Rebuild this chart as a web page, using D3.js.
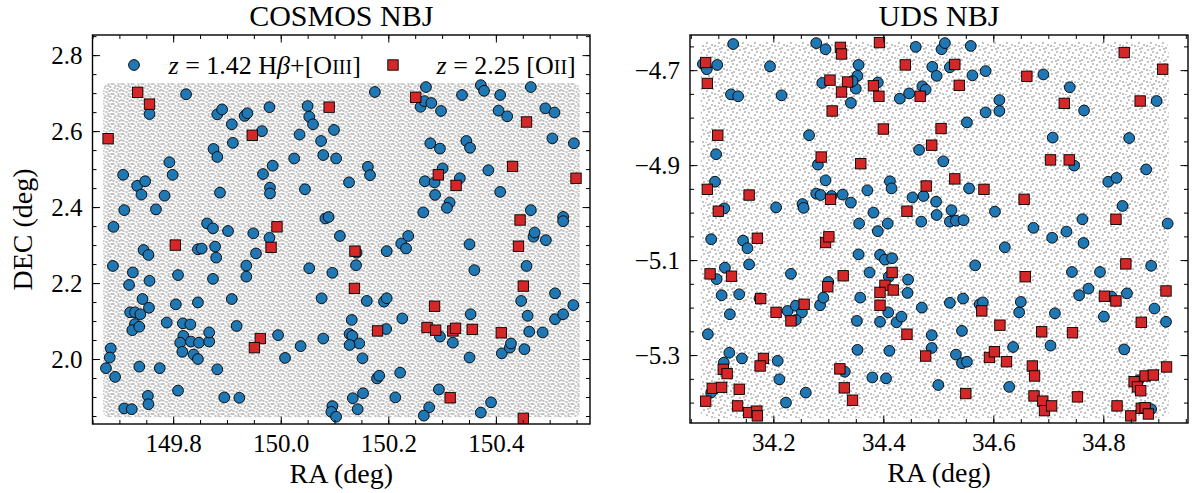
<!DOCTYPE html>
<html>
<head>
<meta charset="utf-8">
<script src="https://cdn.jsdelivr.net/npm/d3@7"></script>
<style>
  body { margin: 0; background: #fff; }
  svg text { font-family: "Liberation Serif", "DejaVu Serif", serif; fill: #000; }
</style>
</head>
<body>
<svg id="chart" width="1197" height="493"></svg>
<script>
// [RA, DEC] in degrees
const cosmosHbOiii = [
  [149.824,2.697],[149.756,2.645],[149.882,2.644],[149.891,2.657],[149.909,2.618],[149.933,2.640],[149.938,2.647],
  [149.979,2.663],[149.965,2.600],[149.911,2.569],[149.875,2.553],[149.882,2.532],[149.793,2.518],[149.799,2.485],
  [149.707,2.485],[149.733,2.456],[149.748,2.468],[149.741,2.433],[149.784,2.430],[149.709,2.392],[149.768,2.394],
  [149.887,2.438],[149.967,2.487],[149.985,2.509],[149.980,2.451],[149.980,2.436],[150.025,2.528],[150.045,2.447],
  [150.035,2.591],[150.050,2.666],[150.053,2.638],[150.060,2.618],[150.075,2.574],[150.079,2.537],[150.175,2.703],
  [150.270,2.716],[150.260,2.664],[150.267,2.679],[150.280,2.674],[150.298,2.653],[150.337,2.695],[150.372,2.721],
  [150.378,2.706],[150.408,2.695],[150.405,2.654],[150.421,2.639],[150.465,2.716],[150.492,2.660],[150.509,2.649],
  [150.505,2.581],[150.545,2.568],[150.099,2.603],[150.103,2.528],[150.162,2.506],[150.166,2.484],[150.127,2.465],
  [150.278,2.568],[150.296,2.554],[150.345,2.574],[150.352,2.556],[150.301,2.502],[150.268,2.468],[150.286,2.465],
  [150.333,2.476],[150.287,2.432],[150.314,2.412],[150.309,2.398],[150.265,2.386],[150.386,2.497],[150.408,2.440],
  [150.465,2.392],[149.689,2.348],[149.863,2.357],[149.874,2.344],[149.902,2.337],[149.949,2.331],[149.979,2.319],
  [149.745,2.287],[149.754,2.274],[149.846,2.289],[149.853,2.291],[149.878,2.296],[149.880,2.267],[149.954,2.278],
  [149.936,2.246],[149.936,2.217],[149.688,2.245],[149.725,2.228],[149.718,2.195],[149.756,2.206],[149.809,2.221],
  [149.874,2.211],[150.053,2.239],[150.076,2.160],[149.743,2.158],[149.755,2.135],[149.805,2.144],[149.846,2.149],
  [149.909,2.158],[149.720,2.123],[149.729,2.123],[149.739,2.118],[149.729,2.092],[149.724,2.076],[149.737,2.085],
  [149.788,2.096],[149.818,2.094],[149.832,2.091],[149.819,2.061],[149.813,2.043],[149.817,2.019],[149.833,2.046],
  [149.848,2.043],[149.867,2.046],[149.867,2.070],[149.838,2.012],[149.846,2.000],[149.918,2.087],[149.995,2.063],
  [150.008,2.003],[150.037,2.034],[150.079,2.054],[149.684,2.028],[149.682,2.004],[149.675,1.976],[149.692,1.953],
  [149.737,1.980],[149.775,1.976],[149.882,1.973],[149.809,1.917],[149.753,1.903],[149.754,1.881],[149.709,1.870],
  [149.723,1.868],[149.895,1.899],[149.923,1.898],[150.083,2.370],[150.089,2.374],[150.525,2.374],[150.525,2.363],
  [150.110,2.324],[150.224,2.304],[150.237,2.324],[150.233,2.291],[150.197,2.284],[150.141,2.280],[150.140,2.247],
  [150.096,2.227],[150.351,2.302],[150.360,2.234],[150.470,2.322],[150.472,2.333],[150.493,2.313],[150.457,2.245],
  [150.160,2.153],[150.192,2.151],[150.197,2.160],[150.132,2.103],[150.226,2.107],[150.196,2.079],[150.128,2.066],
  [150.133,2.061],[150.146,2.041],[150.128,2.037],[150.152,2.002],[150.296,2.059],[150.320,2.043],[150.351,2.004],
  [150.353,2.118],[150.411,2.015],[150.426,2.030],[150.428,2.041],[150.453,2.026],[150.447,2.153],[150.459,2.114],
  [150.462,2.072],[150.487,2.070],[150.510,2.173],[150.510,2.105],[150.525,2.118],[150.544,2.142],[150.179,1.949],
  [150.183,1.956],[150.222,1.964],[150.134,1.897],[150.153,1.910],[150.096,1.876],[150.094,1.861],[150.103,1.848],
  [150.143,1.868],[150.213,1.899],[150.276,1.873],[150.266,1.851],[150.294,1.920],[150.372,1.859],[150.391,1.886]
];
const cosmosOii = [
  [149.679,2.580],[149.734,2.702],[149.756,2.671],[149.947,2.589],[150.090,2.663],[150.251,2.689],[150.457,2.624],
  [150.431,2.507],[150.293,2.485],[150.326,2.457],[150.549,2.476],[149.804,2.300],[149.993,2.348],[149.982,2.294],
  [149.962,2.054],[149.951,2.030],[150.445,2.366],[150.442,2.297],[150.138,2.284],[150.137,2.186],[150.451,2.192],
  [150.286,2.139],[150.180,2.074],[150.272,2.083],[150.288,2.076],[150.320,2.074],[150.325,2.081],[150.356,2.078],
  [150.410,2.069],[150.315,1.898],[150.451,1.844]
];
const udsHbOiii = [
  [34.072,-4.687],[34.079,-4.698],[34.098,-4.689],[34.127,-4.645],[34.123,-4.751],[34.136,-4.755],[34.194,-4.692],
  [34.215,-4.753],[34.265,-4.837],[34.278,-4.643],[34.295,-4.656],[34.289,-4.727],[34.355,-4.689],[34.353,-4.712],
  [34.350,-4.739],[34.341,-4.769],[34.344,-4.723],[34.390,-4.726],[34.430,-4.760],[34.447,-4.749],[34.459,-4.651],
  [34.471,-4.734],[34.477,-4.741],[34.465,-4.868],[34.096,-4.877],[34.094,-4.935],[34.111,-4.991],[34.205,-4.989],
  [34.253,-4.982],[34.255,-4.990],[34.281,-4.899],[34.295,-4.932],[34.278,-4.960],[34.286,-4.963],[34.306,-4.965],
  [34.326,-4.962],[34.341,-4.979],[34.371,-4.953],[34.382,-5.000],[34.412,-4.934],[34.415,-4.949],[34.453,-4.968],
  [34.473,-4.965],[34.506,-4.656],[34.512,-4.643],[34.559,-4.649],[34.489,-4.693],[34.521,-4.694],[34.497,-4.712],
  [34.562,-4.711],[34.586,-4.702],[34.691,-4.709],[34.739,-4.736],[34.611,-4.763],[34.611,-4.786],[34.586,-4.789],
  [34.552,-4.810],[34.765,-4.785],[34.897,-4.765],[34.708,-4.842],[34.847,-4.843],[34.509,-4.892],[34.747,-4.901],
  [34.878,-4.909],[34.809,-4.935],[34.824,-4.927],[34.556,-4.949],[34.496,-4.977],[34.524,-4.995],[34.603,-4.998],
  [34.835,-4.986],[34.356,-5.023],[34.390,-5.039],[34.408,-5.023],[34.469,-5.019],[34.087,-5.056],[34.145,-5.059],
  [34.153,-5.075],[34.156,-5.109],[34.112,-5.116],[34.097,-5.140],[34.106,-5.174],[34.138,-5.172],[34.121,-5.214],
  [34.175,-5.181],[34.232,-5.129],[34.081,-5.256],[34.120,-5.295],[34.110,-5.316],[34.143,-5.307],[34.087,-5.379],
  [34.208,-5.312],[34.211,-5.351],[34.223,-5.400],[34.259,-5.379],[34.226,-5.207],[34.241,-5.196],[34.252,-5.210],
  [34.241,-5.226],[34.285,-5.195],[34.291,-5.179],[34.300,-5.146],[34.355,-5.088],[34.394,-5.089],[34.403,-5.099],
  [34.416,-5.096],[34.375,-5.126],[34.410,-5.135],[34.445,-5.141],[34.444,-5.169],[34.358,-5.179],[34.409,-5.210],
  [34.394,-5.230],[34.424,-5.231],[34.433,-5.219],[34.352,-5.228],[34.470,-5.200],[34.353,-5.289],[34.411,-5.291],
  [34.330,-5.335],[34.380,-5.347],[34.405,-5.349],[34.497,-5.005],[34.521,-5.019],[34.532,-5.017],[34.546,-5.016],
  [34.762,-5.014],[34.917,-5.023],[34.673,-5.032],[34.707,-5.053],[34.733,-5.040],[34.764,-5.064],[34.621,-5.073],
  [34.567,-5.111],[34.743,-5.125],[34.794,-5.125],[34.887,-5.112],[34.756,-5.174],[34.773,-5.160],[34.815,-5.177],
  [34.843,-5.170],[34.893,-5.202],[34.914,-5.230],[34.801,-5.219],[34.712,-5.212],[34.647,-5.210],[34.650,-5.188],
  [34.521,-5.190],[34.545,-5.181],[34.575,-5.193],[34.581,-5.189],[34.488,-5.258],[34.488,-5.285],[34.543,-5.249],
  [34.532,-5.299],[34.543,-5.317],[34.552,-5.314],[34.636,-5.283],[34.704,-5.280],[34.838,-5.288],[34.500,-5.363],
  [34.629,-5.367],[34.887,-5.414],[34.864,-5.353]
];
const udsOii = [
  [34.077,-4.684],[34.080,-4.728],[34.099,-4.837],[34.080,-4.951],[34.156,-4.963],[34.100,-4.997],[34.322,-4.652],
  [34.324,-4.666],[34.393,-4.642],[34.303,-4.721],[34.335,-4.725],[34.324,-4.746],[34.382,-4.733],[34.392,-4.755],
  [34.307,-4.786],[34.400,-4.824],[34.440,-4.689],[34.467,-4.755],[34.287,-4.883],[34.359,-4.897],[34.304,-4.972],
  [34.443,-4.997],[34.530,-4.688],[34.538,-4.732],[34.661,-4.713],[34.838,-4.663],[34.908,-4.698],[34.729,-4.770],
  [34.867,-4.765],[34.505,-4.823],[34.488,-4.858],[34.704,-4.889],[34.738,-4.889],[34.530,-4.929],[34.478,-4.944],
  [34.583,-4.951],[34.656,-4.972],[34.171,-5.054],[34.295,-5.063],[34.301,-5.051],[34.085,-5.129],[34.124,-5.134],
  [34.177,-5.181],[34.205,-5.210],[34.232,-5.228],[34.256,-5.193],[34.299,-5.156],[34.327,-5.133],[34.416,-5.126],
  [34.403,-5.153],[34.418,-5.163],[34.394,-5.168],[34.394,-5.195],[34.443,-5.256],[34.477,-5.302],[34.182,-5.307],
  [34.176,-5.323],[34.109,-5.330],[34.116,-5.339],[34.321,-5.329],[34.329,-5.369],[34.344,-5.395],[34.089,-5.370],
  [34.106,-5.368],[34.077,-5.397],[34.138,-5.372],[34.135,-5.407],[34.155,-5.421],[34.170,-5.418],[34.171,-5.428],
  [34.823,-5.014],[34.841,-5.108],[34.658,-5.135],[34.914,-5.165],[34.802,-5.176],[34.823,-5.186],[34.579,-5.207],
  [34.612,-5.237],[34.688,-5.251],[34.744,-5.253],[34.869,-5.231],[34.593,-5.305],[34.602,-5.293],[34.624,-5.314],
  [34.671,-5.323],[34.675,-5.344],[34.550,-5.381],[34.674,-5.386],[34.690,-5.397],[34.693,-5.417],[34.706,-5.407],
  [34.753,-5.388],[34.825,-5.407],[34.850,-5.428],[34.915,-5.325],[34.856,-5.356],[34.862,-5.367],[34.868,-5.375],
  [34.876,-5.344],[34.891,-5.342],[34.869,-5.412],[34.876,-5.411],[34.882,-5.424]
];
// parent photometric catalogue footprints: [raMin, raMax], [decMin, decMax]
const cosmosFootprint = [[149.670, 150.556], [1.847, 2.726]];
const udsFootprint = [[34.068, 34.919], [-5.433, -4.641]];

const cosmosXTicks = [149.8, 150.0, 150.2, 150.4];
const cosmosYTicks = [2.0, 2.2, 2.4, 2.6, 2.8];
const udsXTicks = [34.2, 34.4, 34.6, 34.8];
const udsYTicks = [-5.3, -5.1, -4.9, -4.7];

const blue = '#1f77b4';
const red = '#d62728';

const svg = d3.select('#chart');
const defs = svg.append('defs');

// background galaxies drawn as a dotted texture
function dotPattern(id, size, dots) {
    const p = defs.append('pattern').attr('id', id).attr('patternUnits', 'userSpaceOnUse')
        .attr('width', size).attr('height', size);
    dots.forEach(function (d) {
        p.append('rect').attr('x', d[0]).attr('y', d[1]).attr('width', 2).attr('height', 2).attr('fill', '#c3c3c3');
    });
}
dotPattern('dense', 10, [[1,2],[5,0],[8,4],[3,6],[8,8],[0,8],[5,8],[4,3],[7,1],[2,0],[6,5],[0,5]]);
dotPattern('sparse', 12, [[1,2],[7,0],[10,5],[4,7],[9,9],[0,10],[6,4],[3,11],[5,1]]);

const panels = [
    { title: 'COSMOS NBJ', x0: 92.5, x1: 590, y0: 35, y1: 424,
      xDomain: [149.650, 150.575], yDomain: [1.829, 2.853],
      xTicks: cosmosXTicks, yTicks: cosmosYTicks, foot: cosmosFootprint, fill: 'dense',
      hb: cosmosHbOiii, oii: cosmosOii, ylabel: true, legend: true },
    { title: 'UDS NBJ', x0: 690, x1: 1188, y0: 35, y1: 423,
      xDomain: [34.0485, 34.954], yDomain: [-5.443, -4.626],
      xTicks: udsXTicks, yTicks: udsYTicks, foot: udsFootprint, fill: 'sparse',
      hb: udsHbOiii, oii: udsOii, ylabel: false, legend: false }
];

const fontFam = '"Liberation Serif", "DejaVu Serif", serif';
const fmt = d3.format('.1f');

panels.forEach(drawPanel);

function minorTicks(domain, step) {
    const start = Math.ceil(domain[0] / step) * step;
    return d3.range(start, domain[1], step).map(function (v) { return Math.round(v / step) * step; });
}

function drawPanel(p) {
    const w = p.x1 - p.x0, h = p.y1 - p.y0;
    const x = d3.scaleLinear().domain(p.xDomain).range([0, w]);
    const y = d3.scaleLinear().domain(p.yDomain).range([h, 0]);
    const g = svg.append('g').attr('transform', 'translate(' + p.x0 + ',' + p.y0 + ')');

    g.append('rect')
        .attr('x', x(p.foot[0][0])).attr('y', y(p.foot[1][1]))
        .attr('width', x(p.foot[0][1]) - x(p.foot[0][0]))
        .attr('height', y(p.foot[1][0]) - y(p.foot[1][1]))
        .attr('rx', 6)
        .attr('fill', 'url(#' + p.fill + ')');

    g.append('g').selectAll('circle').data(p.hb).enter().append('circle')
        .attr('cx', function (d) { return x(d[0]); })
        .attr('cy', function (d) { return y(d[1]); })
        .attr('r', 5.4)
        .attr('fill', blue).attr('stroke', '#000').attr('stroke-width', 0.9);

    const s = 10.4;
    g.append('g').selectAll('rect').data(p.oii).enter().append('rect')
        .attr('x', function (d) { return x(d[0]) - s / 2; })
        .attr('y', function (d) { return y(d[1]) - s / 2; })
        .attr('width', s).attr('height', s)
        .attr('fill', red).attr('stroke', '#000').attr('stroke-width', 0.9);

    const xMinor = minorTicks(p.xDomain, 0.05);
    const yMinor = minorTicks(p.yDomain, 0.05);

    function axis(gen, scale, vals, size, labels, tr) {
        const a = g.append('g').attr('transform', tr || null)
            .call(gen(scale).tickValues(vals).tickSize(-size).tickPadding(10)
                .tickFormat(labels ? fmt : ''));
        a.select('.domain').remove();
        a.attr('font-family', fontFam).attr('font-size', 25);
        a.selectAll('line').attr('stroke-width', 1);
        return a;
    }
    axis(d3.axisBottom, x, xMinor, 4, false, 'translate(0,' + h + ')');
    axis(d3.axisBottom, x, p.xTicks, 7.5, true, 'translate(0,' + h + ')');
    axis(d3.axisTop, x, xMinor, 4, false);
    axis(d3.axisTop, x, p.xTicks, 7.5, false);
    axis(d3.axisLeft, y, yMinor, 4, false);
    axis(d3.axisLeft, y, p.yTicks, 7.5, true);
    axis(d3.axisRight, y, yMinor, 4, false, 'translate(' + w + ',0)');
    axis(d3.axisRight, y, p.yTicks, 7.5, false, 'translate(' + w + ',0)');

    g.append('rect').attr('width', w).attr('height', h)
        .attr('fill', 'none').attr('stroke', '#000').attr('stroke-width', 1.4);

    g.append('text').attr('x', w / 2).attr('y', -9).attr('text-anchor', 'middle')
        .attr('font-size', 30).text(p.title);

    g.append('text').attr('x', w / 2).attr('y', h + 59).attr('text-anchor', 'middle')
        .attr('font-size', 28).text('RA (deg)');

    if (p.ylabel) {
        g.append('text').attr('transform', 'translate(' + (32 - p.x0) + ',' + (h / 2) + ') rotate(-90)')
            .attr('text-anchor', 'middle').attr('font-size', 28).text('DEC (deg)');
    }

    if (p.legend) {
        const lg = g.append('g').attr('font-size', 26);
        lg.append('circle').attr('cx', 41.5).attr('cy', 30).attr('r', 5.4)
            .attr('fill', blue).attr('stroke', '#000').attr('stroke-width', 0.9);
        const t1 = lg.append('text').attr('x', 76).attr('y', 39);
        t1.append('tspan').attr('font-style', 'italic').text('z');
        t1.append('tspan').text(' = 1.42 H');
        t1.append('tspan').attr('font-style', 'italic').text('β');
        t1.append('tspan').text('+[O');
        t1.append('tspan').attr('font-size', 20).text('III');
        t1.append('tspan').text(']');

        lg.append('rect').attr('x', 300.5 - s / 2).attr('y', 30 - s / 2).attr('width', s).attr('height', s)
            .attr('fill', red).attr('stroke', '#000').attr('stroke-width', 0.9);
        const t2 = lg.append('text').attr('x', 344).attr('y', 39);
        t2.append('tspan').attr('font-style', 'italic').text('z');
        t2.append('tspan').text(' = 2.25 [O');
        t2.append('tspan').attr('font-size', 20).text('II');
        t2.append('tspan').text(']');
    }
}
</script>
</body>
</html>
